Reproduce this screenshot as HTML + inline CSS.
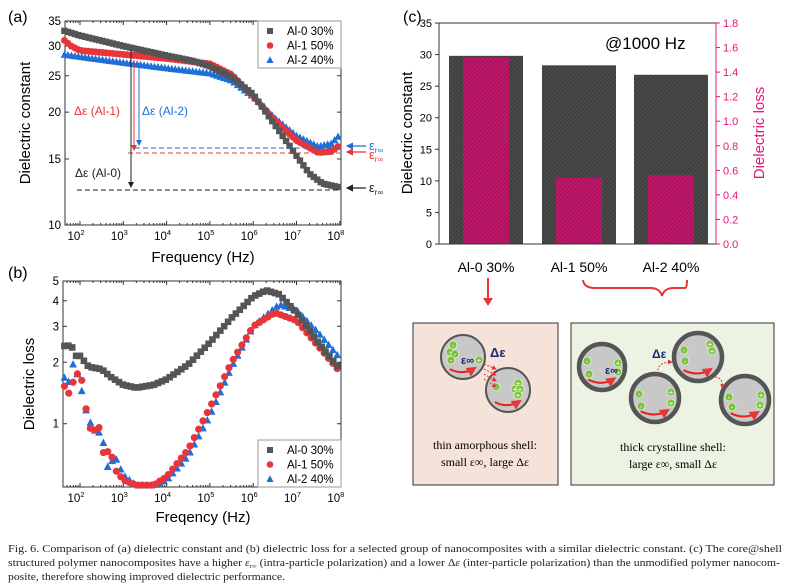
<!DOCTYPE html>
<html><head><meta charset="utf-8"><style>
html,body{margin:0;padding:0;background:#fff;width:790px;height:587px;overflow:hidden}
svg text{font-family:"Liberation Sans",sans-serif}
svg text.cp{font-family:"Liberation Serif",serif;font-size:10.5px;fill:#222}
</style></head><body>
<svg id="s" width="790" height="587" xmlns="http://www.w3.org/2000/svg" style="position:absolute;left:0;top:0">
<defs>
<pattern id="hg" width="3" height="3" patternUnits="userSpaceOnUse" patternTransform="rotate(45)"><rect width="3" height="3" fill="#4a4a4a"/><rect width="1" height="3" fill="#3a3a3a"/></pattern>
<pattern id="hp" width="3" height="3" patternUnits="userSpaceOnUse" patternTransform="rotate(45)"><rect width="3" height="3" fill="#c0186a"/><rect width="1" height="3" fill="#a01058"/></pattern>
<marker id="ak" markerWidth="6" markerHeight="6" refX="5" refY="3" orient="auto"><path d="M0,0 L6,3 L0,6z" fill="#222"/></marker>
<marker id="ar" markerWidth="6" markerHeight="6" refX="5" refY="3" orient="auto"><path d="M0,0 L6,3 L0,6z" fill="#e8353a"/></marker>
<marker id="ab" markerWidth="6" markerHeight="6" refX="5" refY="3" orient="auto"><path d="M0,0 L6,3 L0,6z" fill="#1f6fd8"/></marker>
<marker id="ad" markerWidth="5" markerHeight="5" refX="4" refY="2.5" orient="auto"><path d="M0,0 L5,2.5 L0,5z" fill="#e8353a"/></marker>
</defs>
<g id="g"></g>
<text x="8" y="22" font-size="16">(a)</text>
<text x="8" y="278" font-size="16">(b)</text>
<text x="403" y="22" font-size="16">(c)</text>
<text x="203" y="262" font-size="15" text-anchor="middle">Frequency (Hz)</text>
<text x="203" y="522" font-size="15" text-anchor="middle">Freqency (Hz)</text>
<text transform="translate(30,123) rotate(-90)" font-size="15" text-anchor="middle">Dielectric constant</text>
<text transform="translate(34,384) rotate(-90)" font-size="15" text-anchor="middle">Dielectric loss</text>
<text transform="translate(412,133) rotate(-90)" font-size="15" text-anchor="middle">Dielectric constant</text>
<text transform="translate(764,133) rotate(-90)" font-size="15" text-anchor="middle" fill="#e0187a">Dielectric loss</text>
<text x="605" y="49" font-size="17">@1000 Hz</text>
<text x="486" y="272" font-size="14" text-anchor="middle">Al-0 30%</text>
<text x="579" y="272" font-size="14" text-anchor="middle">Al-1 50%</text>
<text x="671" y="272" font-size="14" text-anchor="middle">Al-2 40%</text>
<line x1="488" y1="278" x2="488" y2="300" stroke="#e8353a" stroke-width="2"/>
<path d="M483,298 L493,298 L488,306z" fill="#e8353a"/>
<path d="M583,280 Q584,288 595,288 L650,288 Q660,288 662,296 Q664,288 674,288 L685,288 Q687,288 687,280" fill="none" stroke="#e8353a" stroke-width="2"/>
<rect x="413" y="323" width="145" height="162" fill="#f5e3da" stroke="#333" stroke-width="1"/>
<rect x="571" y="323" width="203" height="162" fill="#ecf3e2" stroke="#333" stroke-width="1"/>
<text x="485" y="449" font-size="12" text-anchor="middle" style="font-family:'Liberation Serif',serif">thin amorphous shell:</text>
<text x="485" y="466" font-size="12" text-anchor="middle" style="font-family:'Liberation Serif',serif">small ε∞, large Δε</text>
<text x="673" y="451" font-size="12" text-anchor="middle" style="font-family:'Liberation Serif',serif">thick crystalline shell:</text>
<text x="673" y="468" font-size="12" text-anchor="middle" style="font-family:'Liberation Serif',serif">large ε∞, small Δε</text>
<g id="parts"></g>
<text class="cp" x="8" y="552" textLength="774" lengthAdjust="spacingAndGlyphs">Fig. 6. Comparison of (a) dielectric constant and (b) dielectric loss for a selected group of nanocomposites with a similar dielectric constant. (c) The core@shell</text>
<text class="cp" x="8" y="566" textLength="772" lengthAdjust="spacingAndGlyphs">structured polymer nanocomposites have a higher <tspan font-style="italic">ε</tspan><tspan font-size="6" dy="2">r∞</tspan><tspan dy="-2"> (intra-particle polarization) and a lower Δ</tspan><tspan font-style="italic">ε</tspan> (inter-particle polarization) than the unmodified polymer nanocom-</text>
<text class="cp" x="8" y="580" textLength="277" lengthAdjust="spacingAndGlyphs">posite, therefore showing improved dielectric performance.</text>
</svg>
<script>
const NS="http://www.w3.org/2000/svg",G=document.getElementById('g');
function el(t,a,p){const e=document.createElementNS(NS,t);for(const k in a)e.setAttribute(k,a[k]);if(a.text){e.textContent=a.text;e.removeAttribute('text')}(p||G).appendChild(e);return e}
const GR="#555",RD="#e8353a",BL="#1f6fd8";
function interp(pts,x){for(let i=0;i<pts.length-1;i++){if(x<=pts[i+1][0]){const t=(x-pts[i][0])/(pts[i+1][0]-pts[i][0]);return Math.exp(Math.log(pts[i][1])*(1-t)+Math.log(pts[i+1][1])*t)}}return pts[pts.length-1][1]}
function mark(type,x,y,c,s){s=s||3.2;
 if(type==0)el('rect',{x:x-s,y:y-s,width:2*s,height:2*s,fill:c});
 else if(type==1)el('circle',{cx:x,cy:y,r:s+0.3,fill:c});
 else el('path',{d:`M${x},${y-s-0.8} L${x+s+0.6},${y+s} L${x-s-0.6},${y+s}z`,fill:c});}
function panel(L,R,T,B,ymin,ymax,yt,ylab){
 el('rect',{x:L,y:T,width:R-L,height:B-T,fill:'none',stroke:'#333','stroke-width':1});
 const X=d=>80+(d-2)*43.3, Y=v=>B-(Math.log(v/ymin)/Math.log(ymax/ymin))*(B-T);
 for(let d=2;d<=8;d++){const x=X(d);el('line',{x1:x,y1:B,x2:x,y2:B-4,stroke:'#333'});el('line',{x1:x,y1:T,x2:x,y2:T+4,stroke:'#333'});
  const t=el('text',{x:x-4,y:B+15,'font-size':11.5,'text-anchor':'middle',text:'10'});el('tspan',{dy:-5,'font-size':7.5,text:String(d)},t);
  for(let m=2;m<10;m++){const xm=X(d-1+Math.log10(m));if(xm>L&&xm<R){el('line',{x1:xm,y1:B,x2:xm,y2:B-2,stroke:'#333'});el('line',{x1:xm,y1:T,x2:xm,y2:T+2,stroke:'#333'})}}}
 yt.forEach(v=>{const y=Y(v);el('line',{x1:L,y1:y,x2:L+4,y2:y,stroke:'#333'});el('line',{x1:R,y1:y,x2:R-4,y2:y,stroke:'#333'});if(ylab)el('text',{x:L-4,y:y+4,'font-size':11.5,'text-anchor':'end',text:String(v)})});
 return {X,Y};}
const A=panel(65,341,21,225,10,35,[10,15,20,25,30,35],1);
const a0=[[1.62,33],[2,32],[2.5,31],[3,30],[4,28.3],[4.6,27.4],[5,26.5],[5.5,24.8],[6,22.3],[6.5,18.5],[7,15.3],[7.3,13.7],[7.6,12.9],[8,12.6]];
const a1=[[1.62,31.2],[1.8,30],[2,29.2],[3,28.5],[4,27.8],[5,26.9],[5.5,25.2],[6,22],[6.5,19],[7,16.8],[7.5,15.6],[7.8,15.7],[8,16.3]];
const a2=[[1.62,28.5],[3,27.1],[4,26.2],[5,25.4],[5.5,24.3],[6,22],[6.5,19.3],[7,17.3],[7.5,16.2],[7.8,16.5],[8,17.4]];
[[a2,2,BL],[a1,1,RD],[a0,0,GR]].forEach(([p,t,c])=>{for(let d=1.64;d<=8.01;d+=0.08)mark(t,A.X(d),A.Y(interp(p,d)),c)});
el('line',{x1:77,y1:190,x2:340,y2:190,stroke:'#222','stroke-dasharray':'5,3'});
el('line',{x1:128,y1:153,x2:340,y2:153,stroke:RD,'stroke-dasharray':'5,3'});
el('line',{x1:135,y1:148,x2:340,y2:148,stroke:BL,'stroke-dasharray':'5,3'});
el('line',{x1:131,y1:50,x2:131,y2:187,stroke:'#222','marker-end':'url(#ak)'});
el('line',{x1:134,y1:60,x2:134,y2:150,stroke:RD,'marker-end':'url(#ar)'});
el('line',{x1:139,y1:63,x2:139,y2:145,stroke:BL,'marker-end':'url(#ab)'});
el('text',{x:74,y:115,'font-size':12,fill:RD,text:'Δε (Al-1)'});
el('text',{x:142,y:115,'font-size':12,fill:BL,text:'Δε (Al-2)'});
el('text',{x:75,y:177,'font-size':12,fill:'#222',text:'Δε (Al-0)'});
[[146,BL],[152,RD],[188,'#222']].forEach(([y,c],i)=>{el('line',{x1:366,y1:y,x2:347,y2:y,stroke:c,'stroke-width':1.2,'marker-end':`url(#${['ab','ar','ak'][i]})`});
 const t=el('text',{x:369,y:y+(i==1?7:4),'font-size':13,fill:c,text:'ε'});el('tspan',{dy:3,'font-size':8,text:'r∞'},t)});
function legend(y0){[['Al-0 30%',0,GR],['Al-1 50%',1,RD],['Al-2 40%',2,BL]].forEach(([s,t,c],i)=>{const y=y0+10+i*14.5;mark(t,270,y,c,3);el('text',{x:287,y:y+4,'font-size':11.5,text:s})})}
el('rect',{x:258,y:21,width:83,height:47,fill:'#fff',stroke:'#999'});legend(21);
const Bp=panel(63,341,281,487,0.49,5,[1,2,3,4,5],1);
const b0=[[1.62,2.4],[1.8,2.42],[1.9,2.15],[2,2.15],[2.2,1.9],[2.5,1.85],[2.7,1.7],[3,1.55],[3.3,1.5],[3.7,1.55],[4,1.65],[4.5,1.95],[5,2.5],[5.5,3.3],[6,4.2],[6.3,4.5],[6.6,4.3],[7,3.5],[7.5,2.5],[8,1.85]];
const b1=[[1.62,1.55],[1.75,1.4],[1.85,1.62],[2,1.85],[2.1,1.35],[2.2,0.97],[2.3,0.92],[2.45,0.96],[2.55,0.7],[2.7,0.75],[2.8,0.6],[3,0.53],[3.3,0.5],[3.7,0.5],[4,0.55],[4.5,0.75],[5,1.2],[5.5,2.0],[6,3.0],[6.5,3.5],[7,3.2],[7.5,2.4],[8,1.8]];
const b2=[[1.62,1.7],[1.75,1.6],[1.85,2.0],[2,1.6],[2.1,1.25],[2.2,1.05],[2.35,0.92],[2.5,0.9],[2.65,0.6],[2.8,0.7],[3,0.56],[3.3,0.5],[3.7,0.5],[4,0.53],[4.5,0.7],[5,1.1],[5.5,1.9],[6,3.0],[6.6,3.85],[7,3.6],[7.5,2.8],[8,2.1]];
[[b2,2,BL],[b1,1,RD],[b0,0,GR]].forEach(([p,t,c])=>{const st=t==0?0.09:0.1;for(let d=1.64;d<=8.01;d+=st){const v=interp(p,d);if(v>=0.48)mark(t,Bp.X(d),Bp.Y(v),c,3.3)}});
el('rect',{x:258,y:440,width:83,height:47,fill:'#fff',stroke:'#999'});legend(440);
const L=439,R=716,T=23,Bb=244,Yl=v=>Bb-v/35*(Bb-T),Yr=v=>Bb-v/1.8*(Bb-T);
[[449,29.8],[542,28.3],[634,26.8]].forEach(([x,v])=>el('rect',{x:x,y:Yl(v),width:74,height:Bb-Yl(v),fill:'url(#hg)'}));
[[463,1.52],[556,0.54],[648,0.56]].forEach(([x,v])=>el('rect',{x:x,y:Yr(v),width:46,height:Bb-Yr(v),fill:'url(#hp)'}));
el('line',{x1:L,y1:T,x2:L,y2:Bb,stroke:'#333'});el('line',{x1:L,y1:Bb,x2:R,y2:Bb,stroke:'#333'});el('line',{x1:L,y1:T,x2:R,y2:T,stroke:'#333'});
el('line',{x1:R,y1:T,x2:R,y2:Bb,stroke:'#e0187a'});
for(let v=0;v<=35;v+=5){const y=Yl(v);el('line',{x1:L,y1:y,x2:L-4,y2:y,stroke:'#333'});el('text',{x:L-7,y:y+4,'font-size':11,'text-anchor':'end',text:String(v)})}
for(let i=0;i<=9;i++){const v=i*0.2,y=Yr(v);el('line',{x1:R,y1:y,x2:R+4,y2:y,stroke:'#e0187a'});el('text',{x:R+7,y:y+4,'font-size':11,fill:'#e0187a',text:v.toFixed(1)})}
const P=document.getElementById('parts');
function part(cx,cy,r,w,minus,plus){el('circle',{cx,cy,r,fill:'#c8c8c8',stroke:'#555','stroke-width':w},P);
 el('path',{d:`M${cx-r*0.6},${cy+r*0.55} Q${cx},${cy+r*0.85} ${cx+r*0.55},${cy+r*0.5}`,fill:'none',stroke:'#e8201a','stroke-width':2,'marker-end':'url(#ad)'},P);
 minus.forEach(([dx,dy])=>{el('circle',{cx:cx+dx,cy:cy+dy,r:4,fill:'#7cc23c',stroke:'#fff','stroke-width':0.6},P);el('text',{x:cx+dx,y:cy+dy+3,'font-size':8,fill:'#fff','text-anchor':'middle',text:'-'},P)});
 plus.forEach(([dx,dy])=>{el('circle',{cx:cx+dx,cy:cy+dy,r:4,fill:'#7cc23c',stroke:'#fff','stroke-width':0.6},P);el('text',{x:cx+dx,y:cy+dy+3,'font-size':8,fill:'#fff','text-anchor':'middle',text:'+'},P)})}
part(463,357,22,2,[[-10,-12],[-13,-5],[-8,-3],[-12,3]],[[16,3]]);
part(508,390,22,2,[[-12,-3]],[[10,-7],[7,-1],[12,-1],[10,5]]);
for(let i=0;i<4;i++)el('line',{x1:484,y1:364+i*5,x2:496,y2:369+i*6,stroke:'#e8353a','stroke-dasharray':'2,1.5','marker-end':'url(#ad)'},P);
el('text',{x:490,y:357,'font-size':13,'font-weight':'bold',fill:'#1a2a6a',text:'Δε'},P);
el('text',{x:461,y:364,'font-size':11,'font-weight':'bold',fill:'#1a2a6a',text:'ε∞'},P);
part(602,367,23,4.5,[[-15,-6],[-13,7]],[[16,-4],[16,5]]);
part(655,398,24,4.5,[[-16,-4],[-14,8]],[[16,-6],[16,5]]);
part(698,357,24,4.5,[[-14,-7],[-13,4]],[[12,-13],[14,-6]]);
part(745,400,24,4.5,[[-16,-3],[-13,7]],[[16,-5],[15,5]]);
el('text',{x:605,y:374,'font-size':11,'font-weight':'bold',fill:'#1a2a6a',text:'ε∞'},P);
el('text',{x:652,y:358,'font-size':12,'font-weight':'bold',fill:'#1a2a6a',text:'Δε'},P);
el('path',{d:'M658,374 Q656,362 672,362',fill:'none',stroke:'#e8353a','stroke-dasharray':'2,1.5','marker-end':'url(#ad)'},P);
el('path',{d:'M715,377 Q724,378 722,388',fill:'none',stroke:'#e8353a','stroke-dasharray':'2,1.5','marker-end':'url(#ad)'},P);
</script>
</body></html>
